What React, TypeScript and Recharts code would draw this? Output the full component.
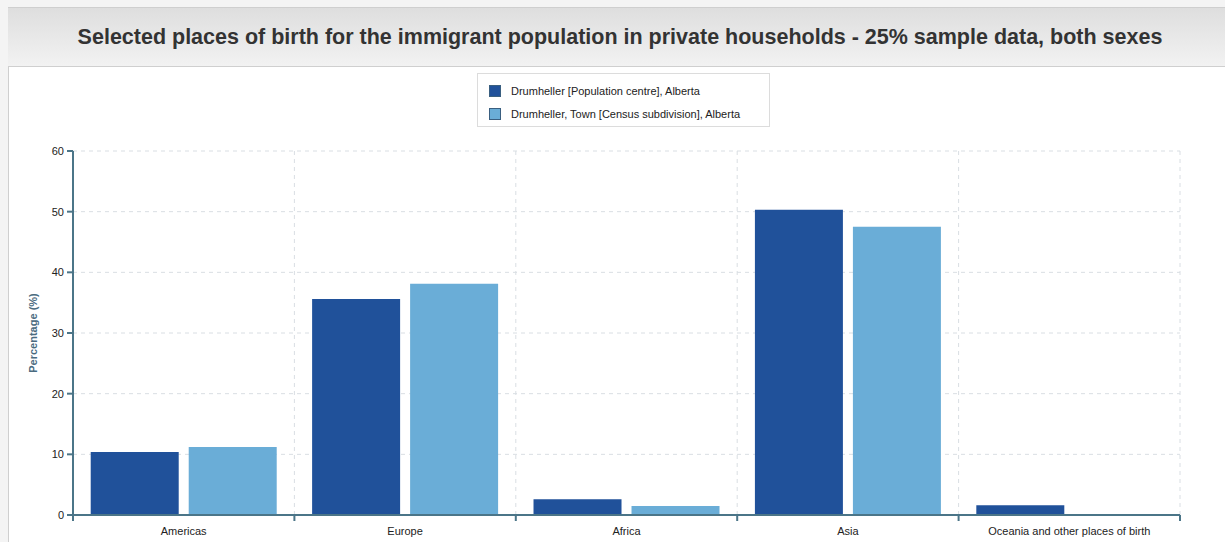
import React from 'react';
import { BarChart, Bar, XAxis, YAxis, CartesianGrid } from 'recharts';

const TITLE = 'Selected places of birth for the immigrant population in private households - 25% sample data, both sexes';

const categories = ['Americas', 'Europe', 'Africa', 'Asia', 'Oceania and other places of birth'];
const populationCentre = [10.4, 35.6, 2.6, 50.3, 1.6];
const censusSubdivision = [11.2, 38.1, 1.5, 47.5, 0];
const yTicks = [0, 10, 20, 30, 40, 50, 60];

const SERIES = [
  { key: 'centre', name: 'Drumheller [Population centre], Alberta', color: '#20519a' },
  { key: 'town', name: 'Drumheller, Town [Census subdivision], Alberta', color: '#6aadd7' },
];

const FONT = '"Liberation Sans", Arial, Helvetica, sans-serif';
const AXIS = '#4b7588';

const data = categories.map((c, i) => ({
  category: c,
  centre: populationCentre[i],
  town: censusSubdivision[i],
}));

const CategoryTick = (props: any) => {
  const { x, y, payload, index } = props;
  const half = payload && payload.offset ? payload.offset : 110;
  const top = y - 8;
  return (
    <g>
      <line x1={x - half} y1={top} x2={x - half} y2={top + 6} stroke={AXIS} strokeWidth={2} />
      {index === categories.length - 1 && (
        <line x1={x + half} y1={top} x2={x + half} y2={top + 6} stroke={AXIS} strokeWidth={2} />
      )}
      <text x={x} y={y + 12} textAnchor="middle" fontSize={11} fill="#222" fontFamily={FONT}>
        {payload.value}
      </text>
    </g>
  );
};

const App: React.FC = () => {
  return (
    <div
      style={{
        position: 'fixed',
        left: 0,
        top: 0,
        width: 1225,
        height: 542,
        background: '#f4f4f4',
        overflow: 'hidden',
        fontFamily: FONT,
      }}
    >
      <div
        style={{
          position: 'absolute',
          left: 8,
          top: 7,
          width: 1240,
          height: 560,
          background: '#fff',
          border: '1px solid #cfcfcf',
        }}
      />
      <div
        style={{
          position: 'absolute',
          left: 8,
          top: 7,
          width: 1224,
          height: 58,
          background: 'linear-gradient(#dedede, #f2f2f2)',
          borderBottom: '1px solid #cfcfcf',
          borderTop: '1px solid #cfcfcf',
          display: 'flex',
          alignItems: 'center',
          justifyContent: 'center',
          fontWeight: 'bold',
          fontSize: 21.5,
          color: '#333',
          whiteSpace: 'nowrap',
        }}
      >
        {TITLE}
      </div>

      <div
        style={{
          position: 'absolute',
          left: 477,
          top: 73,
          width: 293,
          height: 54,
          border: '1px solid #dcdcdc',
          background: '#fff',
          boxSizing: 'border-box',
          padding: '5px 0 0 11px',
        }}
      >
        {SERIES.map((s) => (
          <div key={s.key} style={{ display: 'flex', alignItems: 'center', height: 23, fontSize: 11, color: '#222' }}>
            <span
              style={{
                display: 'inline-block',
                width: 12,
                height: 12,
                background: s.color,
                border: '1px solid #3a5f80',
                marginRight: 10,
                boxSizing: 'border-box',
              }}
            />
            {s.name}
          </div>
        ))}
      </div>

      <div style={{ position: 'absolute', left: 0, top: 0 }}>
        <BarChart
          width={1225}
          height={542}
          data={data}
          margin={{ top: 151, right: 45, bottom: 0, left: 13 }}
          barCategoryGap="8%"
          barGap={10}
        >
          <CartesianGrid
            stroke="#d9dee3"
            strokeDasharray="4 4"
            verticalCoordinatesGenerator={({ offset }: any) =>
              categories.map((_, i) => offset.left + (offset.width * (i + 1)) / categories.length)
            }
          />
          <XAxis
            dataKey="category"
            height={27}
            tickLine={false}
            tickSize={6}
            tickMargin={2}
            axisLine={{ stroke: AXIS, strokeWidth: 2 }}
            tick={<CategoryTick />}
            interval={0}
          />
          <YAxis
            width={60}
            domain={[0, 60]}
            ticks={yTicks}
            tickSize={6}
            tickMargin={3}
            axisLine={{ stroke: AXIS, strokeWidth: 2 }}
            tickLine={{ stroke: AXIS, strokeWidth: 2 }}
            tick={{ fontSize: 11, fill: '#222', fontFamily: FONT }}
            label={{
              value: 'Percentage (%)',
              angle: -90,
              position: 'insideLeft',
              offset: 20,
              style: { fontSize: 11, fontWeight: 'bold', fill: '#4a6b7f', fontFamily: FONT, textAnchor: 'middle' },
            }}
          />
          {SERIES.map((s) => (
            <Bar key={s.key} dataKey={s.key} name={s.name} fill={s.color} isAnimationActive={false} />
          ))}
        </BarChart>
      </div>
    </div>
  );
};

export default App;
